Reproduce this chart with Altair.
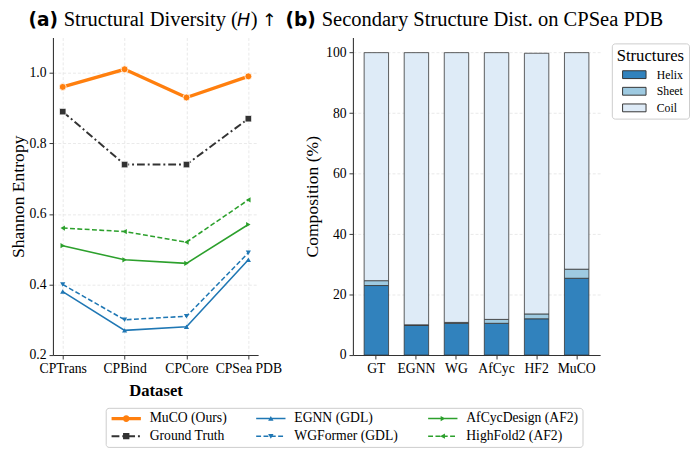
import altair as alt
import pandas as pd

# ---------------- data ----------------
datasets = ["CPTrans", "CPBind", "CPCore", "CPSea PDB"]
series = ["MuCO (Ours)", "Ground Truth", "EGNN (GDL)", "WGFormer (GDL)",
          "AfCycDesign (AF2)", "HighFold2 (AF2)"]
muco = [0.96, 1.01, 0.93, 0.99]
ground_truth = [0.89, 0.74, 0.74, 0.87]
egnn = [0.38, 0.27, 0.28, 0.47]
wgformer = [0.40, 0.30, 0.31, 0.49]
afcycdesign = [0.51, 0.47, 0.46, 0.57]
highfold2 = [0.56, 0.55, 0.52, 0.64]

models = ["GT", "EGNN", "WG", "AfCyc", "HF2", "MuCO"]
structures = ["Helix", "Sheet", "Coil"]
helix = [23.0, 9.8, 10.5, 10.5, 12.0, 25.4]
sheet = [1.6, 0.2, 0.3, 1.3, 1.6, 3.0]
coil = [75.4, 90.0, 89.2, 88.2, 86.2, 71.6]

y_ticks_a = [0.2, 0.4, 0.6, 0.8, 1.0]
y_ticks_b = [0, 20, 40, 60, 80, 100]

title_a_tag = "(a)"
title_a_main = "Structural Diversity ("
title_a_var = "H"
title_a_close = ")"
title_a_arrow = "\u2191"
title_b_tag = "(b)"
title_b_main = "Secondary Structure Dist. on CPSea PDB"

# ---------------- styles ----------------
SERIF = "Liberation Serif"
SANS = "DejaVu Sans"
colors = {
    "MuCO (Ours)": "#ff7f0e", "Ground Truth": "#333333",
    "EGNN (GDL)": "#1f77b4", "WGFormer (GDL)": "#1f77b4",
    "AfCycDesign (AF2)": "#2ca02c", "HighFold2 (AF2)": "#2ca02c",
}
dashes = {
    "MuCO (Ours)": None, "Ground Truth": [8, 3, 2, 3],
    "EGNN (GDL)": None, "WGFormer (GDL)": [5, 2.5],
    "AfCycDesign (AF2)": None, "HighFold2 (AF2)": [5, 2.5],
}
widths = {
    "MuCO (Ours)": 3.5, "Ground Truth": 2.0, "EGNN (GDL)": 1.6,
    "WGFormer (GDL)": 1.6, "AfCycDesign (AF2)": 1.6, "HighFold2 (AF2)": 1.6,
}
markers = {
    "MuCO (Ours)": ("circle", 50, 7), "Ground Truth": ("square", 45, 6.5),
    "EGNN (GDL)": ("triangle-up", 28, 5.5), "WGFormer (GDL)": ("triangle-down", 28, 5.5),
    "AfCycDesign (AF2)": ("triangle-right", 28, 5.5), "HighFold2 (AF2)": ("triangle-left", 28, 5.5),
}

UNIT = 5.0  # px per path unit for legend symbol size 100


def fmt(v):
    return f"{v / UNIT:.3f}"


def legend_path(name, total=30.0):
    dash = dashes[name]
    t = widths[name] / 2
    x, end = -total / 2, total / 2
    segs = []
    if not dash:
        segs = [(x, end)]
    else:
        i = 0
        while x < end:
            L = dash[i % len(dash)]
            if i % 2 == 0:
                segs.append((x, min(x + L, end)))
            x += L
            i += 1
    p = ""
    for a, b in segs:
        p += f"M{fmt(a)},{fmt(-t)}H{fmt(b)}V{fmt(t)}H{fmt(a)}Z"
    shape, _, msz = markers[name]
    s = msz / 2
    if shape == "circle":
        p += f"M0,{fmt(-s)}A{fmt(s)},{fmt(s)} 0 1,1 0,{fmt(s)}A{fmt(s)},{fmt(s)} 0 1,1 0,{fmt(-s)}Z"
    elif shape == "square":
        p += f"M{fmt(-s)},{fmt(-s)}H{fmt(s)}V{fmt(s)}H{fmt(-s)}Z"
    elif shape == "triangle-up":
        p += f"M0,{fmt(-s)}L{fmt(s)},{fmt(0.8 * s)}L{fmt(-s)},{fmt(0.8 * s)}Z"
    elif shape == "triangle-down":
        p += f"M{fmt(-s)},{fmt(-0.8 * s)}L{fmt(s)},{fmt(-0.8 * s)}L0,{fmt(s)}Z"
    elif shape == "triangle-right":
        p += f"M{fmt(-0.8 * s)},{fmt(-s)}L{fmt(s)},0L{fmt(-0.8 * s)},{fmt(s)}Z"
    else:
        p += f"M{fmt(0.8 * s)},{fmt(-s)}L{fmt(0.8 * s)},{fmt(s)}L{fmt(-s)},0Z"
    return p


# ---------------- panel (a) ----------------
values_by_series = [muco, ground_truth, egnn, wgformer, afcycdesign, highfold2]
rows = []
for name, vals in zip(series, values_by_series):
    for d, v in zip(datasets, vals):
        rows.append({"series": name, "dataset": d, "value": v})
df_a = pd.DataFrame(rows)

x_a = alt.X("dataset:N", sort=datasets,
            scale=alt.Scale(type="point", padding=0.158),
            axis=alt.Axis(title="Dataset", labelAngle=0, grid=True,
                          titleFontWeight="bold", titleFontSize=17, titlePadding=7))
y_a = alt.Y("value:Q", scale=alt.Scale(domain=[0.2, 1.1], nice=False, zero=False),
            axis=alt.Axis(title="Shannon Entropy", values=y_ticks_a, format=".1f",
                          grid=True, titlePadding=2))

base_a = alt.Chart(df_a)
layers_a = []
draw_order = ["HighFold2 (AF2)", "AfCycDesign (AF2)", "WGFormer (GDL)", "EGNN (GDL)",
              "Ground Truth", "MuCO (Ours)"]
for name in draw_order:
    kw = {}
    if dashes[name]:
        kw["strokeDash"] = dashes[name]
    line = base_a.transform_filter(alt.datum.series == name).mark_line(
        color=colors[name], strokeWidth=widths[name], **kw
    ).encode(x=x_a, y=y_a)
    shape, size, _ = markers[name]
    pkw = {}
    if name in ("MuCO (Ours)", "Ground Truth"):
        pkw = {"stroke": "white", "strokeWidth": 0.8}
    pts = base_a.transform_filter(alt.datum.series == name).mark_point(
        filled=True, shape=shape, size=size, color=colors[name], opacity=1, **pkw
    ).encode(x=x_a, y=y_a)
    layers_a += [line, pts]

legend_a = alt.Legend(
    orient="none", legendX=54, legendY=379, columns=3, title=None,
    labelFont=SERIF, labelFontSize=14, labelColor="black",
    symbolSize=100, symbolStrokeWidth=0, symbolOffset=10, labelOffset=17,
    columnPadding=28, rowPadding=4, padding=4,
    strokeColor="#cccccc", fillColor="white", cornerRadius=3,
)
legend_layer = base_a.transform_filter("false").mark_point(filled=True, opacity=1).encode(
    x=x_a, y=y_a,
    color=alt.Color("series:N", scale=alt.Scale(domain=series,
                                                range=[colors[s] for s in series]),
                    legend=legend_a),
    shape=alt.Shape("series:N", scale=alt.Scale(domain=series,
                                                range=[legend_path(s) for s in series]),
                    legend=legend_a),
)


def txt(text, x, y, font, size, weight="normal", style="normal", align="left"):
    return alt.Chart(pd.DataFrame({"t": [text]})).mark_text(
        font=font, fontSize=size, fontWeight=weight, fontStyle=style,
        align=align, baseline="alphabetic", color="black"
    ).encode(text="t:N", x=alt.value(x), y=alt.value(y))


TY = -12
titles_a = [
    txt(title_a_tag, -25, TY, SANS, 19, weight="bold"),
    txt(title_a_main, 11, TY, SERIF, 21),
    txt(title_a_var, 188.5, TY, SANS, 18, style="italic"),
    txt(title_a_close, 202.5, TY, SERIF, 21),
    txt(title_a_arrow, 221.5, TY, SANS, 18, align="center"),
]

panel_a = alt.layer(*layers_a, legend_layer, *titles_a).properties(width=210, height=325)

# ---------------- panel (b) ----------------
rows_b = []
for i, m in enumerate(models):
    for j, (s, arr) in enumerate(zip(structures, [helix, sheet, coil])):
        rows_b.append({"model": m, "structure": s, "value": arr[i], "order": j})
df_b = pd.DataFrame(rows_b)

legend_b = alt.Legend(
    orient="none", legendX=265, legendY=6, title="Structures",
    titleFont=SERIF, titleFontSize=17, titleFontWeight="normal", titleColor="black",
    titlePadding=4,
    labelFont=SERIF, labelFontSize=12, labelColor="black",
    symbolType="M-3,-1H3V1H-3Z", symbolSize=64, symbolStrokeColor="#333333",
    symbolStrokeWidth=1, symbolOffset=12, labelOffset=17, rowPadding=5, padding=5,
    strokeColor="#cccccc", fillColor="white", cornerRadius=3,
)

bars = alt.Chart(df_b).mark_bar(stroke="#333333", strokeWidth=0.8).encode(
    x=alt.X("model:N", sort=models,
            scale=alt.Scale(paddingInner=0.39, paddingOuter=0.28),
            axis=alt.Axis(title=None, labelAngle=0, grid=False)),
    y=alt.Y("value:Q", stack="zero",
            scale=alt.Scale(domain=[0, 105], nice=False),
            axis=alt.Axis(title="Composition (%)", values=y_ticks_b, grid=True,
                          titlePadding=4)),
    color=alt.Color("structure:N",
                    scale=alt.Scale(domain=structures,
                                    range=["#3182bd", "#9ecae1", "#deebf7"]),
                    legend=legend_b),
    order=alt.Order("order:Q"),
)

titles_b = [
    txt(title_b_tag, -69, TY, SANS, 19, weight="bold"),
    txt(title_b_main, -32, TY, SERIF, 21),
]

panel_b = alt.layer(bars, *titles_b).properties(width=253, height=325)

chart = alt.hconcat(panel_a, panel_b, spacing=97, bounds="flush").resolve_scale(
    color="independent", shape="independent"
).resolve_legend(color="independent", shape="independent").properties(
    padding={"left": 1, "top": -4, "right": 0, "bottom": 0}
).configure_view(stroke=None).configure_axis(
    labelFont=SERIF, labelFontSize=14, labelColor="black",
    titleFont=SERIF, titleFontSize=18, titleColor="black", titleFontWeight="normal",
    domainColor="#333333", domainWidth=1.1, tickColor="#333333", tickSize=4,
    gridColor="#e3e3e3", gridDash=[3, 2], gridWidth=0.8, labelPadding=3,
)

chart.save("out.html", embed_options={"renderer": "svg", "actions": False})
